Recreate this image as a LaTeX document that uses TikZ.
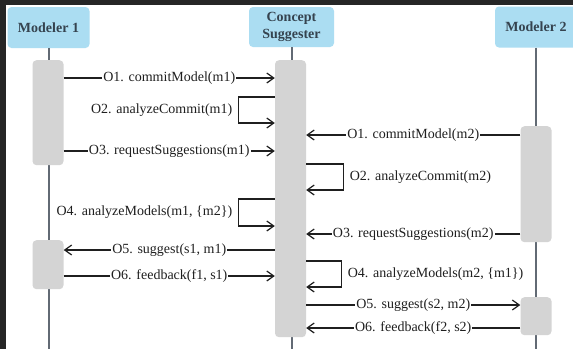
\documentclass[tikz,border=0pt]{standalone}
\usepackage{fontspec}
\setmainfont{Liberation Serif}
\usetikzlibrary{arrows.meta}
\definecolor{headblue}{RGB}{171,221,242}
\definecolor{headtext}{RGB}{53,67,79}
\definecolor{actgray}{RGB}{212,212,212}
\definecolor{lifegray}{RGB}{98,106,116}
\definecolor{framedark}{RGB}{38,38,38}
\tikzset{
  head/.style={fill=headblue, rounded corners=4pt, minimum width=82pt, minimum height=41pt,
    align=center, inner sep=0pt, text=headtext, font=\fontsize{14}{17}\selectfont\bfseries},
  actbar/.style={fill=actgray, rounded corners=4pt, minimum width=31pt, inner sep=0pt, anchor=north},
  lifeline/.style={draw=lifegray, line width=2pt},
  msg/.style={draw=black!88, line width=1.2pt, -{Straight Barb[length=7pt,width=10pt]}},
  lbl/.style={fill=white, inner sep=1pt, text=black!88, font=\fontsize{14}{17}\selectfont},
}
\begin{document}
\begin{tikzpicture}[x=1pt, y=-1pt]
    \useasboundingbox (0,0) rectangle (573,349);
    \fill[framedark] (0,0) rectangle (573,349);
    \fill[white] (6,5) rectangle (573,349);

    % participants
    \node[head] (mod1) at (48.5,27.5) {Modeler 1};
    \node[head, minimum width=85pt, minimum height=40pt] (sugg) at (291.5,27) {Concept\\Suggester};
    \node[head] (mod2) at (536,27) {Modeler 2};

    % lifelines
    \draw[lifeline] (mod1.south) -- (mod1.south |- 0,349);
    \draw[lifeline] (sugg.south) -- (sugg.south |- 0,349);
    \draw[lifeline] (mod2.south) -- (mod2.south |- 0,349);

    % activations
    \node[actbar, minimum height=105pt] (m1a) at (48,60) {};
    \node[actbar, minimum height=49pt] (m1b) at (48,240) {};
    \node[actbar, minimum height=277pt] (csa) at (290.5,60) {};
    \node[actbar, minimum height=116pt] (m2a) at (536,126) {};
    \node[actbar, minimum height=38pt] (m2b) at (536,297) {};

    % messages
    \draw[msg] (m1a.east |- 0,78) -- node[lbl] {O1. commitModel(m1)} (csa.west |- 0,78);
    \draw[msg] (csa.west |- 0,97) -- ++(-36,0) |- node[lbl, pos=0.25, left=5pt] {O2. analyzeCommit(m1)} (csa.west |- 0,123);
    \draw[msg] (m1a.east |- 0,151) -- node[lbl] {O3. requestSuggestions(m1)} (csa.west |- 0,151);
    \draw[msg] (m2a.west |- 0,135) -- node[lbl] {O1. commitModel(m2)} (csa.east |- 0,135);
    \draw[msg] (csa.east |- 0,164) -- ++(37,0) |- node[lbl, pos=0.25, right=5pt] {O2. analyzeCommit(m2)} (csa.east |- 0,190);
    \draw[msg] (csa.west |- 0,199) -- ++(-36,0) |- node[lbl, pos=0.25, left=5pt] {O4. analyzeModels(m1, \{m2\})} (csa.west |- 0,226);
    \draw[msg] (m2a.west |- 0,234) -- node[lbl] {O3. requestSuggestions(m2)} (csa.east |- 0,234);
    \draw[msg] (csa.west |- 0,250) -- node[lbl] {O5. suggest(s1, m1)} (m1b.east |- 0,250);
    \draw[msg] (csa.east |- 0,261) -- ++(35,0) |- node[lbl, pos=0.25, right=5pt] {O4. analyzeModels(m2, \{m1\})} (csa.east |- 0,287);
    \draw[msg] (m1b.east |- 0,276) -- node[lbl] {O6. feedback(f1, s1)} (csa.west |- 0,276);
    \draw[msg] (csa.east |- 0,305) -- node[lbl] {O5. suggest(s2, m2)} (m2b.west |- 0,305);
    \draw[msg] (m2b.west |- 0,328) -- node[lbl] {O6. feedback(f2, s2)} (csa.east |- 0,328);
\end{tikzpicture}
\end{document}
